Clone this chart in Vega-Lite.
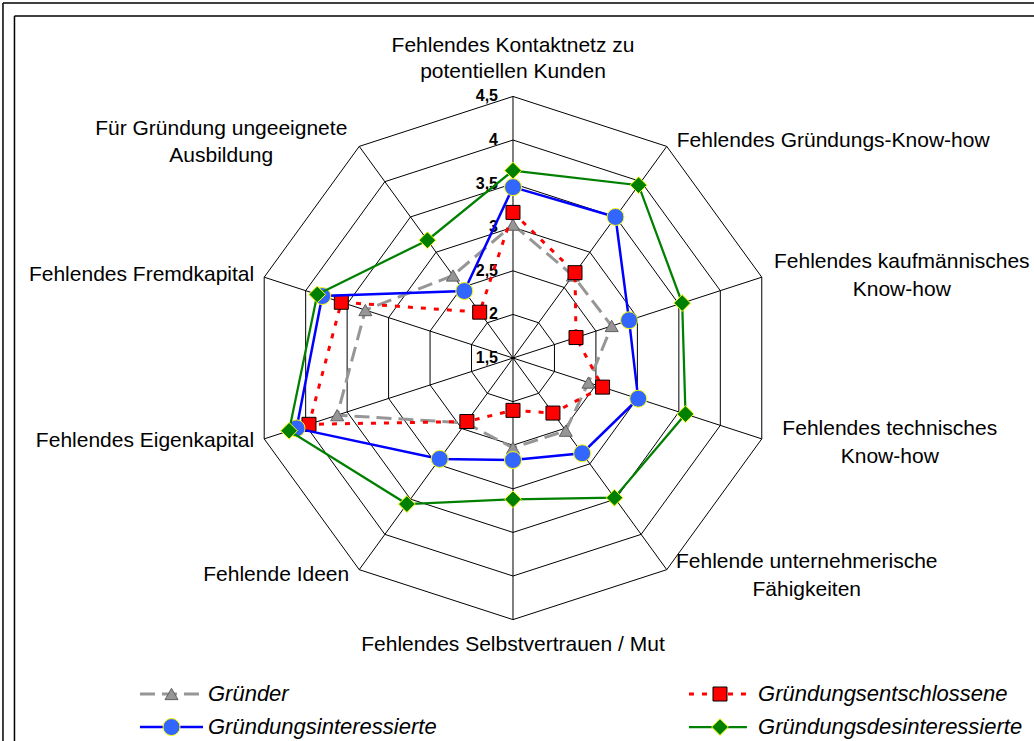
{
  "$schema": "https://vega.github.io/schema/vega-lite/v6.json",
  "width": 1034,
  "height": 741,
  "autosize": {"type": "none"},
  "padding": 0,
  "background": "white",
  "config": {"view": {"stroke": null}, "font": "Liberation Sans"},
  "data": {"values": [{"one": 1}]},
  "datasets": {
    "scores": [
      {"series": "Gründer", "axis": 0, "value": 3.03},
      {"series": "Gründer", "axis": 1, "value": 2.67},
      {"series": "Gründer", "axis": 2, "value": 2.69},
      {"series": "Gründer", "axis": 3, "value": 2.41},
      {"series": "Gründer", "axis": 4, "value": 2.53},
      {"series": "Gründer", "axis": 5, "value": 2.53},
      {"series": "Gründer", "axis": 6, "value": 2.42},
      {"series": "Gründer", "axis": 7, "value": 3.62},
      {"series": "Gründer", "axis": 8, "value": 3.28},
      {"series": "Gründer", "axis": 9, "value": 2.67},
      {"series": "Gründungsentschlossene", "axis": 0, "value": 3.17},
      {"series": "Gründungsentschlossene", "axis": 1, "value": 2.71},
      {"series": "Gründungsentschlossene", "axis": 2, "value": 2.26},
      {"series": "Gründungsentschlossene", "axis": 3, "value": 2.58},
      {"series": "Gründungsentschlossene", "axis": 4, "value": 2.28},
      {"series": "Gründungsentschlossene", "axis": 5, "value": 2.10},
      {"series": "Gründungsentschlossene", "axis": 6, "value": 2.40},
      {"series": "Gründungsentschlossene", "axis": 7, "value": 3.96},
      {"series": "Gründungsentschlossene", "axis": 8, "value": 3.57},
      {"series": "Gründungsentschlossene", "axis": 9, "value": 2.15},
      {"series": "Gründungsinteressierte", "axis": 0, "value": 3.46},
      {"series": "Gründungsinteressierte", "axis": 1, "value": 3.50},
      {"series": "Gründungsinteressierte", "axis": 2, "value": 2.90},
      {"series": "Gründungsinteressierte", "axis": 3, "value": 3.01},
      {"series": "Gründungsinteressierte", "axis": 4, "value": 2.85},
      {"series": "Gründungsinteressierte", "axis": 5, "value": 2.67},
      {"series": "Gründungsinteressierte", "axis": 6, "value": 2.93},
      {"series": "Gründungsinteressierte", "axis": 7, "value": 4.11},
      {"series": "Gründungsinteressierte", "axis": 8, "value": 3.80},
      {"series": "Gründungsinteressierte", "axis": 9, "value": 2.45},
      {"series": "Gründungsdesinteressierte", "axis": 0, "value": 3.65},
      {"series": "Gründungsdesinteressierte", "axis": 1, "value": 3.95},
      {"series": "Gründungsdesinteressierte", "axis": 2, "value": 3.54},
      {"series": "Gründungsdesinteressierte", "axis": 3, "value": 3.58},
      {"series": "Gründungsdesinteressierte", "axis": 4, "value": 3.48},
      {"series": "Gründungsdesinteressierte", "axis": 5, "value": 3.12},
      {"series": "Gründungsdesinteressierte", "axis": 6, "value": 3.57},
      {"series": "Gründungsdesinteressierte", "axis": 7, "value": 4.20},
      {"series": "Gründungsdesinteressierte", "axis": 8, "value": 3.86},
      {"series": "Gründungsdesinteressierte", "axis": 9, "value": 3.17}
    ],
    "axes": [
      {"axis": 0, "label": "Fehlendes Kontaktnetz zu|potentiellen Kunden", "levels": [2, 2.5, 3, 3.5, 4, 4.5]},
      {"axis": 1, "label": "Fehlendes Gründungs-Know-how", "levels": [2, 2.5, 3, 3.5, 4, 4.5]},
      {"axis": 2, "label": "Fehlendes kaufmännisches|Know-how", "levels": [2, 2.5, 3, 3.5, 4, 4.5]},
      {"axis": 3, "label": "Fehlendes technisches|Know-how", "levels": [2, 2.5, 3, 3.5, 4, 4.5]},
      {"axis": 4, "label": "Fehlende unternehmerische|Fähigkeiten", "levels": [2, 2.5, 3, 3.5, 4, 4.5]},
      {"axis": 5, "label": "Fehlendes Selbstvertrauen / Mut", "levels": [2, 2.5, 3, 3.5, 4, 4.5]},
      {"axis": 6, "label": "Fehlende Ideen", "levels": [2, 2.5, 3, 3.5, 4, 4.5]},
      {"axis": 7, "label": "Fehlendes Eigenkapital", "levels": [2, 2.5, 3, 3.5, 4, 4.5]},
      {"axis": 8, "label": "Fehlendes Fremdkapital", "levels": [2, 2.5, 3, 3.5, 4, 4.5]},
      {"axis": 9, "label": "Für Gründung ungeeignete|Ausbildung", "levels": [2, 2.5, 3, 3.5, 4, 4.5]}
    ],
    "ticks": [
      {"level": 1.5, "tick": "1,5"},
      {"level": 2, "tick": "2"},
      {"level": 2.5, "tick": "2,5"},
      {"level": 3, "tick": "3"},
      {"level": 3.5, "tick": "3,5"},
      {"level": 4, "tick": "4"},
      {"level": 4.5, "tick": "4,5"}
    ],
    "legend": [
      {"series": "Gründer", "col": 0, "row": 0},
      {"series": "Gründungsentschlossene", "col": 1, "row": 0},
      {"series": "Gründungsinteressierte", "col": 0, "row": 1},
      {"series": "Gründungsdesinteressierte", "col": 1, "row": 1}
    ]
  },
  "layer": [
    {
      "mark": {"type": "rule", "stroke": "#000000", "strokeWidth": 1.5},
      "encoding": {
        "x": {"datum": -5.849, "type": "quantitative", "scale": {"domain": [-5.883, 5.975], "nice": false, "zero": false}, "axis": null},
        "y": {"datum": 4.071, "type": "quantitative", "scale": {"domain": [-4.392, 4.106], "nice": false, "zero": false}, "axis": null},
        "y2": {"datum": -4.6}
      }
    },
    {
      "mark": {"type": "rule", "stroke": "#000000", "strokeWidth": 1.5},
      "encoding": {
        "x": {"datum": -5.849, "type": "quantitative", "scale": {"domain": [-5.883, 5.975], "nice": false, "zero": false}, "axis": null},
        "x2": {"datum": 6.2},
        "y": {"datum": 4.071, "type": "quantitative", "scale": {"domain": [-4.392, 4.106], "nice": false, "zero": false}, "axis": null}
      }
    },
    {
      "mark": {"type": "rule", "stroke": "#000000", "strokeWidth": 1.5},
      "encoding": {
        "x": {"datum": -5.717, "type": "quantitative", "scale": {"domain": [-5.883, 5.975], "nice": false, "zero": false}, "axis": null},
        "y": {"datum": 3.922, "type": "quantitative", "scale": {"domain": [-4.392, 4.106], "nice": false, "zero": false}, "axis": null},
        "y2": {"datum": -4.6}
      }
    },
    {
      "mark": {"type": "rule", "stroke": "#000000", "strokeWidth": 1.5},
      "encoding": {
        "x": {"datum": -5.717, "type": "quantitative", "scale": {"domain": [-5.883, 5.975], "nice": false, "zero": false}, "axis": null},
        "x2": {"datum": 6.2},
        "y": {"datum": 3.922, "type": "quantitative", "scale": {"domain": [-4.392, 4.106], "nice": false, "zero": false}, "axis": null}
      }
    },
    {
      "data": {"name": "axes"},
      "transform": [
        {"flatten": ["levels"], "as": ["level"]},
        {"calculate": "datum.axis * PI / 5", "as": "ang"},
        {"calculate": "(datum.level - 1.5) * sin(datum.ang)", "as": "rx"},
        {"calculate": "(datum.level - 1.5) * cos(datum.ang)", "as": "ry"}
      ],
      "mark": {"type": "line", "interpolate": "linear-closed", "stroke": "#000000", "strokeWidth": 1},
      "encoding": {
        "x": {"field": "rx", "type": "quantitative", "scale": {"domain": [-5.883, 5.975], "nice": false, "zero": false}, "axis": null},
        "y": {"field": "ry", "type": "quantitative", "scale": {"domain": [-4.392, 4.106], "nice": false, "zero": false}, "axis": null},
        "detail": {"field": "level", "type": "nominal"},
        "order": {"field": "axis", "type": "quantitative"}
      }
    },
    {
      "data": {"name": "axes"},
      "transform": [
        {"calculate": "datum.axis * PI / 5", "as": "ang"},
        {"calculate": "3 * sin(datum.ang)", "as": "vx"},
        {"calculate": "3 * cos(datum.ang)", "as": "vy"}
      ],
      "mark": {"type": "rule", "stroke": "#000000", "strokeWidth": 1},
      "encoding": {
        "x": {"field": "vx", "type": "quantitative", "scale": {"domain": [-5.883, 5.975], "nice": false, "zero": false}, "axis": null},
        "y": {"field": "vy", "type": "quantitative", "scale": {"domain": [-4.392, 4.106], "nice": false, "zero": false}, "axis": null},
        "x2": {"datum": 0},
        "y2": {"datum": 0}
      }
    },
    {
      "data": {"name": "ticks"},
      "transform": [{"calculate": "datum.level - 1.5", "as": "r"}],
      "mark": {"type": "text", "align": "right", "baseline": "middle", "dx": -15, "fontSize": 16, "fontWeight": "bold", "fill": "#000000"},
      "encoding": {
        "x": {"datum": 0, "type": "quantitative", "scale": {"domain": [-5.883, 5.975], "nice": false, "zero": false}, "axis": null},
        "y": {"field": "r", "type": "quantitative", "scale": {"domain": [-4.392, 4.106], "nice": false, "zero": false}, "axis": null},
        "text": {"field": "tick", "type": "nominal"}
      }
    },
    {
      "data": {"name": "axes"},
      "transform": [
        {"calculate": "datum.axis * PI / 5", "as": "ang"},
        {"calculate": "3 * sin(datum.ang)", "as": "vx"},
        {"calculate": "3 * cos(datum.ang)", "as": "vy"},
        {"calculate": "3.08 * cos(datum.ang)", "as": "ly"}
      ],
      "encoding": {
        "x": {"field": "vx", "type": "quantitative", "scale": {"domain": [-5.883, 5.975], "nice": false, "zero": false}, "axis": null},
        "text": {"field": "label", "type": "nominal"}
      },
      "layer": [
        {
          "transform": [{"filter": "datum.axis == 0"}],
          "mark": {"type": "text", "align": "center", "baseline": "bottom", "dy": -40, "fontSize": 21, "lineHeight": 26, "lineBreak": "|", "fill": "#000000"},
          "encoding": {"y": {"field": "vy", "type": "quantitative", "scale": {"domain": [-4.392, 4.106], "nice": false, "zero": false}, "axis": null}}
        },
        {
          "transform": [{"filter": "datum.axis == 5"}],
          "mark": {"type": "text", "align": "center", "baseline": "top", "dy": 14, "fontSize": 21, "lineHeight": 27, "lineBreak": "|", "fill": "#000000"},
          "encoding": {"y": {"field": "vy", "type": "quantitative", "scale": {"domain": [-4.392, 4.106], "nice": false, "zero": false}, "axis": null}}
        },
        {
          "transform": [{"filter": "datum.axis == 1"}],
          "mark": {"type": "text", "align": "left", "baseline": "middle", "dx": 10, "fontSize": 21, "lineHeight": 27, "lineBreak": "|", "fill": "#000000"},
          "encoding": {"y": {"field": "ly", "type": "quantitative", "scale": {"domain": [-4.392, 4.106], "nice": false, "zero": false}, "axis": null}}
        },
        {
          "transform": [{"filter": "datum.axis == 2 || datum.axis == 4"}],
          "mark": {"type": "text", "align": "center", "baseline": "middle", "dx": 140, "dy": -13, "fontSize": 21, "lineHeight": 28, "lineBreak": "|", "fill": "#000000"},
          "encoding": {"y": {"field": "ly", "type": "quantitative", "scale": {"domain": [-4.392, 4.106], "nice": false, "zero": false}, "axis": null}}
        },
        {
          "transform": [{"filter": "datum.axis == 3"}],
          "mark": {"type": "text", "align": "center", "baseline": "middle", "dx": 128, "dy": -12, "fontSize": 21, "lineHeight": 28, "lineBreak": "|", "fill": "#000000"},
          "encoding": {"y": {"field": "ly", "type": "quantitative", "scale": {"domain": [-4.392, 4.106], "nice": false, "zero": false}, "axis": null}}
        },
        {
          "transform": [{"filter": "datum.axis >= 6 && datum.axis <= 8"}],
          "mark": {"type": "text", "align": "right", "baseline": "middle", "dx": -10, "fontSize": 21, "lineHeight": 27, "lineBreak": "|", "fill": "#000000"},
          "encoding": {"y": {"field": "ly", "type": "quantitative", "scale": {"domain": [-4.392, 4.106], "nice": false, "zero": false}, "axis": null}}
        },
        {
          "transform": [{"filter": "datum.axis == 9"}],
          "mark": {"type": "text", "align": "center", "baseline": "middle", "dx": -138, "dy": -12, "fontSize": 21, "lineHeight": 27, "lineBreak": "|", "fill": "#000000"},
          "encoding": {"y": {"field": "ly", "type": "quantitative", "scale": {"domain": [-4.392, 4.106], "nice": false, "zero": false}, "axis": null}}
        }
      ]
    },
    {
      "data": {"name": "scores"},
      "transform": [
        {"filter": "datum.series == 'Gründer'"},
        {"calculate": "datum.axis * PI / 5", "as": "ang"},
        {"calculate": "(datum.value - 1.5) * sin(datum.ang)", "as": "px"},
        {"calculate": "(datum.value - 1.5) * cos(datum.ang)", "as": "py"}
      ],
      "encoding": {
        "x": {"field": "px", "type": "quantitative", "scale": {"domain": [-5.883, 5.975], "nice": false, "zero": false}, "axis": null},
        "y": {"field": "py", "type": "quantitative", "scale": {"domain": [-4.392, 4.106], "nice": false, "zero": false}, "axis": null}
      },
      "layer": [
        {"mark": {"type": "line", "interpolate": "linear-closed", "stroke": "#969696", "strokeWidth": 3, "strokeDash": [15, 7]}, "encoding": {"order": {"field": "axis", "type": "quantitative"}}},
        {"mark": {"type": "point", "shape": "triangle-up", "size": 169, "filled": true, "fill": "#969696", "stroke": "#606060", "strokeWidth": 1, "opacity": 1}}
      ]
    },
    {
      "data": {"name": "scores"},
      "transform": [
        {"filter": "datum.series == 'Gründungsentschlossene'"},
        {"calculate": "datum.axis * PI / 5", "as": "ang"},
        {"calculate": "(datum.value - 1.5) * sin(datum.ang)", "as": "px"},
        {"calculate": "(datum.value - 1.5) * cos(datum.ang)", "as": "py"}
      ],
      "encoding": {
        "x": {"field": "px", "type": "quantitative", "scale": {"domain": [-5.883, 5.975], "nice": false, "zero": false}, "axis": null},
        "y": {"field": "py", "type": "quantitative", "scale": {"domain": [-4.392, 4.106], "nice": false, "zero": false}, "axis": null}
      },
      "layer": [
        {"mark": {"type": "line", "interpolate": "linear-closed", "stroke": "#FF0000", "strokeWidth": 3, "strokeDash": [5, 8]}, "encoding": {"order": {"field": "axis", "type": "quantitative"}}},
        {"mark": {"type": "point", "shape": "square", "size": 196, "filled": true, "fill": "#FF0000", "stroke": "#000000", "strokeWidth": 1, "opacity": 1}}
      ]
    },
    {
      "data": {"name": "scores"},
      "transform": [
        {"filter": "datum.series == 'Gründungsinteressierte'"},
        {"calculate": "datum.axis * PI / 5", "as": "ang"},
        {"calculate": "(datum.value - 1.5) * sin(datum.ang)", "as": "px"},
        {"calculate": "(datum.value - 1.5) * cos(datum.ang)", "as": "py"}
      ],
      "encoding": {
        "x": {"field": "px", "type": "quantitative", "scale": {"domain": [-5.883, 5.975], "nice": false, "zero": false}, "axis": null},
        "y": {"field": "py", "type": "quantitative", "scale": {"domain": [-4.392, 4.106], "nice": false, "zero": false}, "axis": null}
      },
      "layer": [
        {"mark": {"type": "line", "interpolate": "linear-closed", "stroke": "#0000FF", "strokeWidth": 2.5}, "encoding": {"order": {"field": "axis", "type": "quantitative"}}},
        {"mark": {"type": "point", "shape": "circle", "size": 289, "filled": true, "fill": "#3366FF", "stroke": "#FFFF00", "strokeWidth": 1, "opacity": 1}}
      ]
    },
    {
      "data": {"name": "scores"},
      "transform": [
        {"filter": "datum.series == 'Gründungsdesinteressierte'"},
        {"calculate": "datum.axis * PI / 5", "as": "ang"},
        {"calculate": "(datum.value - 1.5) * sin(datum.ang)", "as": "px"},
        {"calculate": "(datum.value - 1.5) * cos(datum.ang)", "as": "py"}
      ],
      "encoding": {
        "x": {"field": "px", "type": "quantitative", "scale": {"domain": [-5.883, 5.975], "nice": false, "zero": false}, "axis": null},
        "y": {"field": "py", "type": "quantitative", "scale": {"domain": [-4.392, 4.106], "nice": false, "zero": false}, "axis": null}
      },
      "layer": [
        {"mark": {"type": "line", "interpolate": "linear-closed", "stroke": "#008000", "strokeWidth": 2.25}, "encoding": {"order": {"field": "axis", "type": "quantitative"}}},
        {"mark": {"type": "point", "shape": "diamond", "size": 280, "filled": true, "fill": "#008000", "stroke": "#FFFF00", "strokeWidth": 1, "opacity": 1}}
      ]
    },
    {
      "data": {"name": "legend"},
      "transform": [
        {"calculate": "datum.col == 0 ? -4.278 : 2.018", "as": "lx0"},
        {"calculate": "datum.col == 0 ? -3.555 : 2.683", "as": "lx1"},
        {"calculate": "datum.col == 0 ? -3.916 : 2.374", "as": "lmx"},
        {"calculate": "datum.col == 0 ? -3.498 : 2.81", "as": "ltx"},
        {"calculate": "datum.row == 0 ? -3.853 : -4.232", "as": "ly"}
      ],
      "encoding": {
        "y": {"field": "ly", "type": "quantitative", "scale": {"domain": [-4.392, 4.106], "nice": false, "zero": false}, "axis": null}
      },
      "layer": [
        {
          "transform": [{"filter": "datum.series == 'Gründer'"}],
          "mark": {"type": "rule", "stroke": "#969696", "strokeWidth": 3, "strokeDash": [15, 7]},
          "encoding": {
            "x": {"field": "lx0", "type": "quantitative", "scale": {"domain": [-5.883, 5.975], "nice": false, "zero": false}, "axis": null},
            "x2": {"field": "lx1"}
          }
        },
        {
          "transform": [{"filter": "datum.series == 'Gründungsentschlossene'"}],
          "mark": {"type": "rule", "stroke": "#FF0000", "strokeWidth": 3, "strokeDash": [5, 8]},
          "encoding": {
            "x": {"field": "lx0", "type": "quantitative", "scale": {"domain": [-5.883, 5.975], "nice": false, "zero": false}, "axis": null},
            "x2": {"field": "lx1"}
          }
        },
        {
          "transform": [{"filter": "datum.series == 'Gründungsinteressierte'"}],
          "mark": {"type": "rule", "stroke": "#0000FF", "strokeWidth": 2.5},
          "encoding": {
            "x": {"field": "lx0", "type": "quantitative", "scale": {"domain": [-5.883, 5.975], "nice": false, "zero": false}, "axis": null},
            "x2": {"field": "lx1"}
          }
        },
        {
          "transform": [{"filter": "datum.series == 'Gründungsdesinteressierte'"}],
          "mark": {"type": "rule", "stroke": "#008000", "strokeWidth": 2.25},
          "encoding": {
            "x": {"field": "lx0", "type": "quantitative", "scale": {"domain": [-5.883, 5.975], "nice": false, "zero": false}, "axis": null},
            "x2": {"field": "lx1"}
          }
        },
        {
          "transform": [{"filter": "datum.series == 'Gründer'"}],
          "mark": {"type": "point", "shape": "triangle-up", "size": 169, "filled": true, "fill": "#969696", "stroke": "#606060", "strokeWidth": 1, "opacity": 1},
          "encoding": {"x": {"field": "lmx", "type": "quantitative", "scale": {"domain": [-5.883, 5.975], "nice": false, "zero": false}, "axis": null}}
        },
        {
          "transform": [{"filter": "datum.series == 'Gründungsentschlossene'"}],
          "mark": {"type": "point", "shape": "square", "size": 196, "filled": true, "fill": "#FF0000", "stroke": "#000000", "strokeWidth": 1, "opacity": 1},
          "encoding": {"x": {"field": "lmx", "type": "quantitative", "scale": {"domain": [-5.883, 5.975], "nice": false, "zero": false}, "axis": null}}
        },
        {
          "transform": [{"filter": "datum.series == 'Gründungsinteressierte'"}],
          "mark": {"type": "point", "shape": "circle", "size": 289, "filled": true, "fill": "#3366FF", "stroke": "#FFFF00", "strokeWidth": 1, "opacity": 1},
          "encoding": {"x": {"field": "lmx", "type": "quantitative", "scale": {"domain": [-5.883, 5.975], "nice": false, "zero": false}, "axis": null}}
        },
        {
          "transform": [{"filter": "datum.series == 'Gründungsdesinteressierte'"}],
          "mark": {"type": "point", "shape": "diamond", "size": 280, "filled": true, "fill": "#008000", "stroke": "#FFFF00", "strokeWidth": 1, "opacity": 1},
          "encoding": {"x": {"field": "lmx", "type": "quantitative", "scale": {"domain": [-5.883, 5.975], "nice": false, "zero": false}, "axis": null}}
        },
        {
          "mark": {"type": "text", "align": "left", "baseline": "middle", "fontSize": 22, "fontStyle": "italic", "fill": "#000000"},
          "encoding": {
            "x": {"field": "ltx", "type": "quantitative", "scale": {"domain": [-5.883, 5.975], "nice": false, "zero": false}, "axis": null},
            "text": {"field": "series", "type": "nominal"}
          }
        }
      ]
    }
  ]
}
